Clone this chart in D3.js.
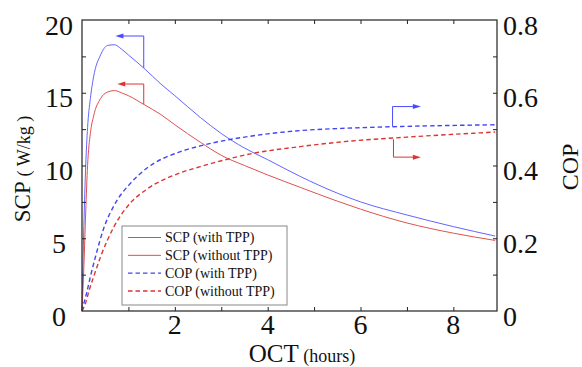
<!DOCTYPE html>
<html>
<head>
<meta charset="utf-8">
<script src="https://cdn.jsdelivr.net/npm/d3@7/dist/d3.min.js"></script>
<style>
  body { margin: 0; background: #fff; }
  svg { display: block; font-family: "Liberation Serif", "DejaVu Serif", serif; }
</style>
</head>
<body>
<svg id="chart" width="582" height="367"></svg>
<script>
// OCT (hours) sample points and values
const scpWithX   = [0, 0.04, 0.08, 0.12, 0.18, 0.25, 0.4, 0.55, 0.7, 0.85, 1.0, 1.33, 1.7, 2.0, 2.55, 3.0, 3.5, 4.0, 4.7, 5.5, 6.0, 7.0, 8.0, 8.9];
const scpWith    = [0, 5.8, 10, 12.6, 14.6, 16.1, 17.6, 18.25, 18.3, 18.0, 17.6, 16.7, 15.6, 14.8, 13.3, 12.2, 11.2, 10.4, 9.25, 8.1, 7.5, 6.6, 5.8, 5.15];
const scpWithoutX = [0, 0.04, 0.08, 0.12, 0.18, 0.25, 0.4, 0.55, 0.7, 0.85, 1.0, 1.33, 1.7, 2.0, 2.55, 3.0, 3.5, 4.0, 4.7, 5.5, 6.0, 7.0, 8.0, 8.9];
const scpWithout  = [0, 3.0, 6.8, 10, 12.2, 13.4, 14.6, 15.05, 15.15, 15.0, 14.8, 14.2, 13.5, 12.8, 11.6, 10.7, 10.0, 9.35, 8.5, 7.55, 7.0, 6.05, 5.35, 4.85];
const copWithX   = [0, 0.04, 0.1, 0.18, 0.29, 0.47, 0.69, 1.05, 1.4, 2.12, 2.55, 3.0, 3.6, 4.2, 4.7, 5.6, 6.5, 7.5, 8.9];
const copWith    = [0, 0.021, 0.05, 0.094, 0.149, 0.228, 0.29, 0.352, 0.393, 0.438, 0.454, 0.467, 0.48, 0.49, 0.496, 0.502, 0.506, 0.509, 0.512];
const copWithoutX = [0, 0.075, 0.15, 0.25, 0.4, 0.69, 1.05, 1.4, 2.12, 2.55, 3.0, 3.63, 4.7, 5.6, 7.0, 8.9];
const copWithout  = [0, 0.021, 0.055, 0.094, 0.149, 0.232, 0.298, 0.335, 0.38, 0.397, 0.413, 0.432, 0.452, 0.465, 0.478, 0.492];

const xTicks = [1, 2, 3, 4, 5, 6, 7, 8];
const xLabels = [2, 4, 6, 8];
const scpTicks = [2.5, 5, 7.5, 10, 12.5, 15, 17.5];
const scpLabels = [0, 5, 10, 15, 20];
const copTicks = [0.1, 0.2, 0.3, 0.4, 0.5, 0.6, 0.7];
const copLabels = [0, 0.2, 0.4, 0.6, 0.8];

const seriesNames = ["SCP (with TPP)", "SCP (without TPP)", "COP (with TPP)", "COP (without TPP)"];

const svg = d3.select("#chart");
const m = { left: 82, right: 497, top: 20, bottom: 311 };

const x = d3.scaleLinear().domain([0, 8.94]).range([m.left, m.right]);
const yL = d3.scaleLinear().domain([0, 20]).range([m.bottom, m.top]);
const yR = d3.scaleLinear().domain([0, 0.8]).range([m.bottom, m.top]);

const series = [
  { name: seriesNames[0], xs: scpWithX, ys: scpWith, y: yL, color: "#6464ff", dash: null, w: 1 },
  { name: seriesNames[1], xs: scpWithoutX, ys: scpWithout, y: yL, color: "#e05050", dash: null, w: 1 },
  { name: seriesNames[2], xs: copWithX, ys: copWith, y: yR, color: "#4444f2", dash: "4.5,3", w: 1.4 },
  { name: seriesNames[3], xs: copWithoutX, ys: copWithout, y: yR, color: "#dd3434", dash: "4.5,3", w: 1.4 },
];

// curves
series.forEach(s => {
  const pts = s.xs.map((v, i) => [v, s.ys[i]]);
  svg.append("path")
    .datum(pts)
    .attr("fill", "none")
    .attr("stroke", s.color)
    .attr("stroke-width", s.w)
    .attr("stroke-dasharray", s.dash)
    .attr("d", d3.line().x(d => x(d[0])).y(d => s.y(d[1])).curve(d3.curveMonotoneX));
});

// arrows marking which axis each pair belongs to (data units)
const arrows = [
  { x0: 1.33, y0: 16.7, y1: 18.9, x1: 0.72, scale: yL, color: "#4a4aff" },
  { x0: 1.33, y0: 14.2, y1: 15.6, x1: 0.76, scale: yL, color: "#dd3333" },
  { x0: 6.69, y0: 0.507, y1: 0.562, x1: 7.3, scale: yR, color: "#4a4aff" },
  { x0: 6.71, y0: 0.472, y1: 0.423, x1: 7.3, scale: yR, color: "#dd3333" },
];
arrows.forEach(a => {
  const px0 = x(a.x0), py0 = a.scale(a.y0), py1 = a.scale(a.y1), px1 = x(a.x1);
  const dir = px1 < px0 ? -1 : 1;
  svg.append("path")
    .attr("fill", "none").attr("stroke", a.color).attr("stroke-width", 1)
    .attr("d", `M${px0},${py0}V${py1}H${px1 - dir * 5}`);
  svg.append("path")
    .attr("fill", a.color)
    .attr("d", `M${px1},${py1}L${px1 - dir * 8},${py1 - 2.5}L${px1 - dir * 8},${py1 + 2.5}Z`);
});

// frame
svg.append("rect")
  .attr("x", m.left).attr("y", m.top)
  .attr("width", m.right - m.left).attr("height", m.bottom - m.top)
  .attr("fill", "none").attr("stroke", "#222").attr("stroke-width", 1.2);

// axes (inward ticks, no labels from axis itself)
const tickStyle = g => { g.select(".domain").remove(); g.selectAll("line").attr("stroke", "#222"); g.selectAll("text").remove(); };
svg.append("g").attr("transform", `translate(0,${m.bottom})`)
  .call(d3.axisBottom(x).tickValues(xTicks).tickSize(-4)).call(tickStyle);
svg.append("g").attr("transform", `translate(0,${m.top})`)
  .call(d3.axisTop(x).tickValues(xTicks).tickSize(-4)).call(tickStyle);
svg.append("g").attr("transform", `translate(${m.left},0)`)
  .call(d3.axisLeft(yL).tickValues(scpTicks).tickSize(-4)).call(tickStyle);
svg.append("g").attr("transform", `translate(${m.right},0)`)
  .call(d3.axisRight(yR).tickValues(copTicks).tickSize(-4)).call(tickStyle);

// tick labels
const lab = svg.append("g").attr("font-size", 28).attr("fill", "#111");
lab.selectAll(".xl").data(xLabels).join("text")
  .attr("x", d => x(d)).attr("y", 334).attr("text-anchor", "middle").text(d => d);
lab.selectAll(".yl").data(scpLabels).join("text")
  .attr("x", 59).attr("y", d => yL(d)).attr("dy", "0.52em").attr("text-anchor", "middle").text(d => d);
lab.selectAll(".yr").data(copLabels).join("text")
  .attr("x", 503).attr("y", d => yR(d)).attr("dy", "0.52em").attr("text-anchor", "start").text(d => d);

// axis titles
const xt = svg.append("text").attr("x", 302).attr("y", 362).attr("text-anchor", "middle").attr("fill", "#111");
xt.append("tspan").attr("font-size", 25).text("OCT");
xt.append("tspan").attr("font-size", 18).text(" (hours)");

const ylt = svg.append("text").attr("transform", "translate(30,169) rotate(-90)")
  .attr("text-anchor", "middle").attr("fill", "#111");
ylt.append("tspan").attr("font-size", 23).text("SCP ");
ylt.append("tspan").attr("font-size", 18).text("( W/kg )");

svg.append("text").attr("transform", "translate(578,167) rotate(-90)")
  .attr("text-anchor", "middle").attr("font-size", 24).attr("fill", "#111").text("COP");

// legend
const lg = svg.append("g");
lg.append("rect").attr("x", 122).attr("y", 226).attr("width", 165).attr("height", 79)
  .attr("fill", "#fff").attr("stroke", "#888").attr("stroke-width", 1);
const rowY = d3.scalePoint().domain(seriesNames).range([237.5, 291]);
series.forEach(s => {
  const yy = rowY(s.name);
  lg.append("line").attr("x1", 128).attr("x2", 161).attr("y1", yy).attr("y2", yy)
    .attr("stroke", s.color).attr("stroke-width", s.w).attr("stroke-dasharray", s.dash);
  lg.append("text").attr("x", 165).attr("y", yy).attr("dy", "0.35em")
    .attr("font-size", 14).attr("fill", "#111").text(s.name);
});
</script>
</body>
</html>
